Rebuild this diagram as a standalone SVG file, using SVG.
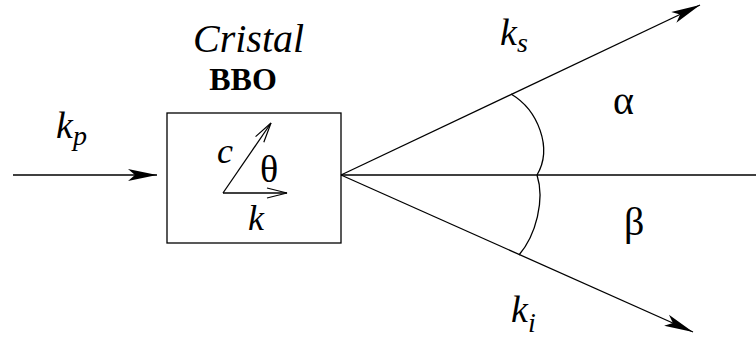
<svg xmlns="http://www.w3.org/2000/svg" width="756" height="343" viewBox="0 0 756 343">
<defs>
  <marker id="ah" markerUnits="userSpaceOnUse" markerWidth="40" markerHeight="20" viewBox="-30 -10 32 20" refX="0" refY="0" orient="auto">
    <path d="M0,0 L-29,-6 L-22,0 L-29,6 Z" fill="#000"/>
  </marker>
  <marker id="oh" markerUnits="userSpaceOnUse" markerWidth="30" markerHeight="20" viewBox="-22 -10 24 20" refX="0" refY="0" orient="auto">
    <path d="M-20,-5 L0,0 L-20,5" fill="none" stroke="#000" stroke-width="1.2"/>
  </marker>
</defs>
<rect width="756" height="343" fill="#fff"/>
<g id="crystal">
  <rect x="167" y="113" width="174" height="130" fill="none" stroke="#000" stroke-width="1.3"/>
  <text font-family="Times New Roman, serif" font-style="italic" x="193" y="52" font-size="40">Cristal</text>
  <text font-family="Times New Roman, serif" x="243" y="90" font-size="32" font-weight="bold" text-anchor="middle">BBO</text>
  <line x1="223" y1="193" x2="271" y2="123" stroke="#000" stroke-width="1.3" marker-end="url(#oh)"/>
  <line x1="223" y1="193" x2="287" y2="193" stroke="#000" stroke-width="1.3" marker-end="url(#oh)"/>
  <text font-family="Times New Roman, serif" font-style="italic" x="217" y="163" font-size="36">c</text>
  <text font-family="Times New Roman, serif" x="260" y="182" font-size="38">θ</text>
  <text font-family="Times New Roman, serif" font-style="italic" x="248" y="230" font-size="36">k</text>
</g>
<g id="connectors" stroke="#000" stroke-width="1.3" fill="none">
  <line x1="13" y1="175" x2="157" y2="175" marker-end="url(#ah)"/>
  <line x1="341" y1="175" x2="700" y2="5" marker-end="url(#ah)"/>
  <line x1="341" y1="175" x2="693" y2="332" marker-end="url(#ah)"/>
  <line x1="341" y1="175" x2="756" y2="175"/>
  <path d="M511,94 C538,110 553,148 537,175"/>
  <path d="M537,175 C545,200 536,235 519,255"/>
</g>
<g id="labels">
  <text font-family="Times New Roman, serif" font-style="italic" x="56" y="138" font-size="38">k<tspan font-size="28" dy="7">p</tspan></text>
  <text font-family="Times New Roman, serif" font-style="italic" x="500" y="45" font-size="38">k<tspan font-size="28" dy="7">s</tspan></text>
  <text font-family="Times New Roman, serif" font-style="italic" x="511" y="322" font-size="38">k<tspan font-size="28" dy="10">i</tspan></text>
  <text font-family="Times New Roman, serif" x="613" y="114" font-size="40">α</text>
  <text font-family="Times New Roman, serif" x="624" y="235" font-size="40">β</text>
</g>
</svg>
